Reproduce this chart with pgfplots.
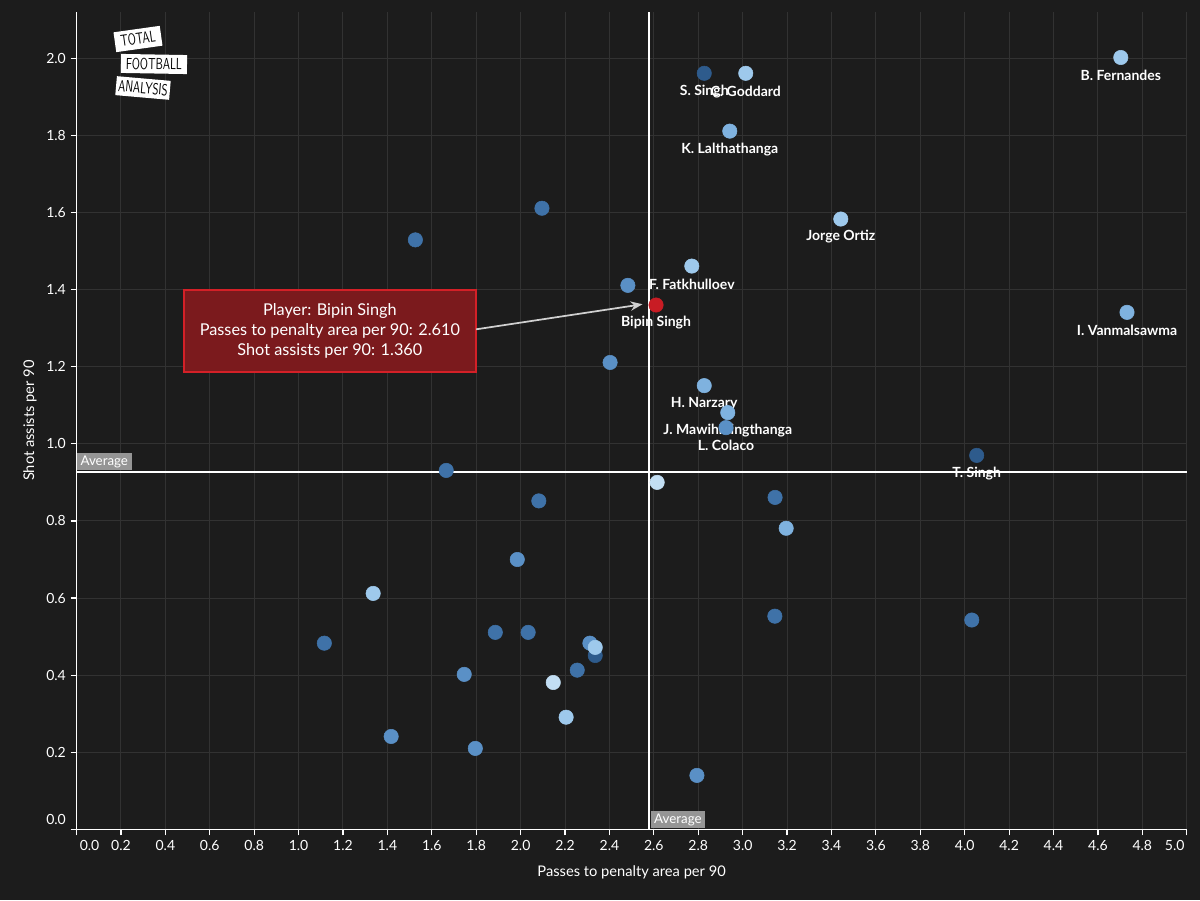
\documentclass[border=0pt]{standalone}
\usepackage{fontspec}
\setmainfont{Lato}
\usepackage{pgfplots}
\pgfplotsset{compat=1.18}
\usetikzlibrary{arrows.meta}

\definecolor{bg}{HTML}{1C1C1C}
\definecolor{gridc}{HTML}{323232}
\definecolor{b1}{HTML}{2E5B8C}
\definecolor{b2}{HTML}{3F72A8}
\definecolor{b3}{HTML}{5A90C6}
\definecolor{b4}{HTML}{7FB2DF}
\definecolor{b5}{HTML}{9EC9EC}
\definecolor{b6}{HTML}{C2DEF3}
\definecolor{bip}{HTML}{C81C24}
\definecolor{boxfill}{HTML}{7B1A1D}
\definecolor{boxline}{HTML}{D42027}
\definecolor{avg}{HTML}{959595}
\definecolor{arrowc}{HTML}{D0D0D0}

% players: passes to penalty area per 90, shot assists per 90, shade
\pgfplotstableread{
x y c
4.703 2.002 b5
4.731 1.341 b4
2.827 1.961 b1
3.014 1.961 b5
2.942 1.811 b4
3.442 1.583 b5
2.096 1.611 b2
1.526 1.529 b2
2.771 1.461 b5
2.483 1.411 b3
2.403 1.211 b3
2.827 1.151 b4
2.933 1.081 b4
2.925 1.042 b3
4.054 0.970 b1
2.615 0.900 b6
3.146 0.861 b2
3.196 0.781 b4
1.665 0.931 b2
2.082 0.852 b2
1.985 0.700 b3
1.336 0.612 b5
1.116 0.483 b2
1.886 0.511 b2
2.034 0.511 b2
2.312 0.483 b3
2.336 0.451 b1
2.336 0.472 b5
2.255 0.413 b2
1.746 0.402 b3
2.147 0.381 b6
2.205 0.291 b5
1.417 0.241 b3
1.796 0.210 b3
2.794 0.140 b3
3.145 0.553 b2
4.032 0.543 b2
}\players

\tikzset{
  lbl/.style={font=\bfseries\fontsize{10.5pt}{12pt}\selectfont, text=white, yshift=-13.5pt},
  avgbox/.style={fill=avg, text=white, font=\fontsize{10pt}{12pt}\selectfont,
    inner xsep=2.8pt, inner ysep=1.8pt, anchor=south west},
}

\begin{document}
\begin{tikzpicture}
\useasboundingbox (0,0) rectangle (900pt,675pt);
\fill[bg] (0,0) rectangle (900pt,675pt);
\begin{axis}[
    at={(57.4pt,52.95pt)}, anchor=south west,
    scale only axis, width=832.65pt, height=613.05pt,
    xmin=0, xmax=5, ymin=0, ymax=2.12,
    axis lines=left,
    axis line style={white, line width=1.1pt, -},
    clip=false,
    grid=major,
    major grid style={gridc, line width=0.75pt},
    tick align=outside,
    major tick length=4.5pt,
    tick style={white, line width=0.9pt},
    ticklabel style={text=white, font=\fontsize{10.5pt}{12pt}\selectfont},
    xtick={0,0.2,0.4,0.6,0.8,1.0,1.2,1.4,1.6,1.8,2.0,2.2,2.4,2.6,2.8,3.0,3.2,3.4,3.6,3.8,4.0,4.2,4.4,4.6,4.8,5.0},
    xticklabels={\hspace*{19.5pt}0.0,0.2,0.4,0.6,0.8,1.0,1.2,1.4,1.6,1.8,2.0,2.2,2.4,2.6,2.8,3.0,3.2,3.4,3.6,3.8,4.0,4.2,4.4,4.6,4.8,5.0\hspace*{18pt}},
    ytick={0.2,0.4,0.6,0.8,1.0,1.2,1.4,1.6,1.8,2.0},
    yticklabels={0.2,0.4,0.6,0.8,1.0,1.2,1.4,1.6,1.8,2.0},
    extra y ticks={0},
    extra y tick labels={0.0},
    extra y tick style={grid=none, yticklabel style={yshift=7.5pt}},
    xlabel={Passes to penalty area per 90},
    ylabel={Shot assists per 90},
    xlabel style={at={(axis description cs:0.5,-0.052)}, anchor=center, text=white, font=\fontsize{11pt}{12pt}\selectfont},
    ylabel style={at={(axis description cs:-0.042,0.5)}, anchor=center, text=white, font=\fontsize{11pt}{12pt}\selectfont},
    mark size=5.4pt,
]
\draw[white, line width=1.1pt] (axis cs:-0.027,0) -- (axis cs:0,0);

% players
\addplot[scatter, only marks, scatter src=explicit symbolic,
  scatter/classes={
    b1={mark=*, fill=b1, draw=b1},
    b2={mark=*, fill=b2, draw=b2},
    b3={mark=*, fill=b3, draw=b3},
    b4={mark=*, fill=b4, draw=b4},
    b5={mark=*, fill=b5, draw=b5},
    b6={mark=*, fill=b6, draw=b6}}]
  table[x=x, y=y, meta=c] {\players};

% highlighted player
\addplot[only marks, mark=*, fill=bip, draw=bip] coordinates {(2.61,1.36)};

% names
\node[lbl] at (axis cs:4.703,2.002) {B. Fernandes};
\node[lbl] at (axis cs:4.731,1.341) {I. Vanmalsawma};
\node[lbl] at (axis cs:2.827,1.961) {S. Singh};
\node[lbl] at (axis cs:3.014,1.961) {C. Goddard};
\node[lbl] at (axis cs:2.942,1.811) {K. Lalthathanga};
\node[lbl] at (axis cs:3.442,1.583) {Jorge Ortiz};
\node[lbl] at (axis cs:2.771,1.461) {F. Fatkhulloev};
\node[lbl] at (axis cs:2.61,1.36) {Bipin Singh};
\node[lbl] at (axis cs:2.827,1.151) {H. Narzary};
\node[lbl] at (axis cs:2.933,1.081) {J. Mawihmingthanga};
\node[lbl] at (axis cs:2.925,1.042) {L. Colaco};
\node[lbl] at (axis cs:4.054,0.970) {T. Singh};

% average lines
\draw[white, line width=1.5pt] (axis cs:2.579,0) -- (axis cs:2.579,2.12);
\draw[white, line width=1.5pt] (axis cs:0,0.928) -- (axis cs:5,0.928);
\node[avgbox, yshift=0.8pt] at (axis cs:0,0.928) {Average};
\node[avgbox, xshift=0.8pt, yshift=0.8pt] at (axis cs:2.579,0) {Average};

% annotation
\draw[boxline, line width=1.9pt, fill=boxfill] (axis cs:0.484,1.186) rectangle (axis cs:1.799,1.399);
\node[align=center, text=white, font=\fontsize{12.2pt}{15pt}\selectfont] at (axis cs:1.141,1.293)
  {Player: Bipin Singh\\Passes to penalty area per 90: 2.610\\Shot assists per 90: 1.360};
\draw[arrowc, line width=1.3pt, -{Stealth[length=9pt,width=7pt]}] (axis cs:1.800,1.297) -- (axis cs:2.549,1.362);
\end{axis}

% logo
\node[fill=white, rotate=8, minimum width=35pt, minimum height=15pt, inner sep=0pt]
  at (103.5pt,645.75pt) {\scalebox{0.7}[1]{\sffamily\fontsize{12pt}{12pt}\selectfont TOTAL}};
\node[fill=white, rotate=-1, minimum width=49.5pt, minimum height=14.25pt, inner sep=0pt]
  at (115.5pt,627pt) {\scalebox{0.7}[1]{\sffamily\fontsize{12pt}{12pt}\selectfont FOOTBALL}};
\node[fill=white, rotate=-5, minimum width=40.5pt, minimum height=14.25pt, inner sep=0pt]
  at (107.25pt,609pt) {\scalebox{0.7}[1]{\sffamily\fontsize{12pt}{12pt}\selectfont ANALYSIS}};
\end{tikzpicture}
\end{document}
